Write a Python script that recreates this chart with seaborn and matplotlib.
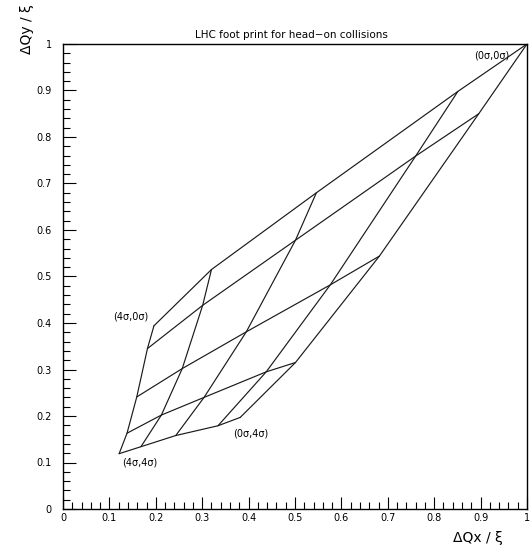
import matplotlib
matplotlib.use("Agg")
import matplotlib.pyplot as plt
import numpy as np
import pandas as pd
import seaborn as sns
from matplotlib.ticker import MultipleLocator, FuncFormatter

sns.set_style("ticks")
plt.rcParams["font.family"] = ["DejaVu Sans"]
plt.rcParams["text.color"] = "black"

# tune shift nodes, rows = x amplitude (0..4 sigma), cols = y amplitude (0..4 sigma)
sigmas = [0, 1, 2, 3, 4]
dqx = [
    [1.000, 0.896, 0.682, 0.501, 0.382],
    [0.851, 0.760, 0.576, 0.438, 0.334],
    [0.546, 0.501, 0.395, 0.304, 0.243],
    [0.320, 0.301, 0.257, 0.212, 0.168],
    [0.196, 0.182, 0.159, 0.138, 0.121],
]
dqy = [
    [1.000, 0.850, 0.544, 0.315, 0.197],
    [0.898, 0.759, 0.482, 0.295, 0.179],
    [0.680, 0.578, 0.381, 0.240, 0.158],
    [0.515, 0.438, 0.302, 0.202, 0.134],
    [0.394, 0.345, 0.241, 0.163, 0.119],
]
corner_text = ["(0σ,0σ)", "(4σ,0σ)", "(4σ,4σ)", "(0σ,4σ)"]
corner_pos = [(0.963, 0.976), (0.183, 0.413), (0.127, 0.099), (0.366, 0.163)]
corner_ha = ["right", "right", "left", "left"]

# build one polyline per constant-amplitude line
rows = []
for i in sigmas:
    for j in sigmas:
        rows.append({"line": f"ax{i}", "order": j, "x": dqx[i][j], "y": dqy[i][j]})
        rows.append({"line": f"ay{j}", "order": i, "x": dqx[i][j], "y": dqy[i][j]})
df = pd.DataFrame(rows).sort_values(["line", "order"])

fig = plt.figure(figsize=(5.32, 5.49), dpi=100)
ax = fig.add_axes([63 / 532, 40 / 549, 464 / 532, 465 / 549])

sns.lineplot(data=df, x="x", y="y", units="line", estimator=None, sort=False,
             color="#1a1a1a", linewidth=0.85, ax=ax)

for txt, (tx, ty), ha in zip(corner_text, corner_pos, corner_ha):
    ax.text(tx, ty, txt, ha=ha, va="center", fontsize=7, color="black")

ax.set_xlim(0, 1)
ax.set_ylim(0, 1)
ax.xaxis.set_major_locator(MultipleLocator(0.1))
ax.yaxis.set_major_locator(MultipleLocator(0.1))
ax.xaxis.set_minor_locator(MultipleLocator(0.02))
ax.yaxis.set_minor_locator(MultipleLocator(0.02))
fmt = FuncFormatter(lambda v, p: f"{v:.1f}".rstrip("0").rstrip(".") if v > 1e-9 else "0")
ax.xaxis.set_major_formatter(fmt)
ax.yaxis.set_major_formatter(fmt)
ax.tick_params(which="both", direction="in", top=False, right=False, width=0.8, colors="black")
ax.tick_params(which="major", length=9, labelsize=7)
ax.tick_params(axis="y", which="major", pad=8)
ax.tick_params(axis="x", which="major", pad=3)
ax.tick_params(which="minor", length=5)
for s in ax.spines.values():
    s.set_visible(True)
    s.set_color("black")
    s.set_linewidth(1.0)
ax.set_xlabel("")
ax.set_ylabel("")

fig.text(0.547, 1 - 35 / 549, "LHC foot print for head\u2212on collisions",
         ha="center", va="center", fontsize=7.5, color="black")
fig.text(503 / 532, 1 - 538 / 549, "ΔQx / ξ", ha="right", va="center", fontsize=10, color="black")
fig.text(27 / 532, 1 - 4 / 549, "ΔQy / ξ", ha="center", va="top", rotation=90, fontsize=10, color="black")

fig.savefig("out.png", dpi=100, facecolor="white")
